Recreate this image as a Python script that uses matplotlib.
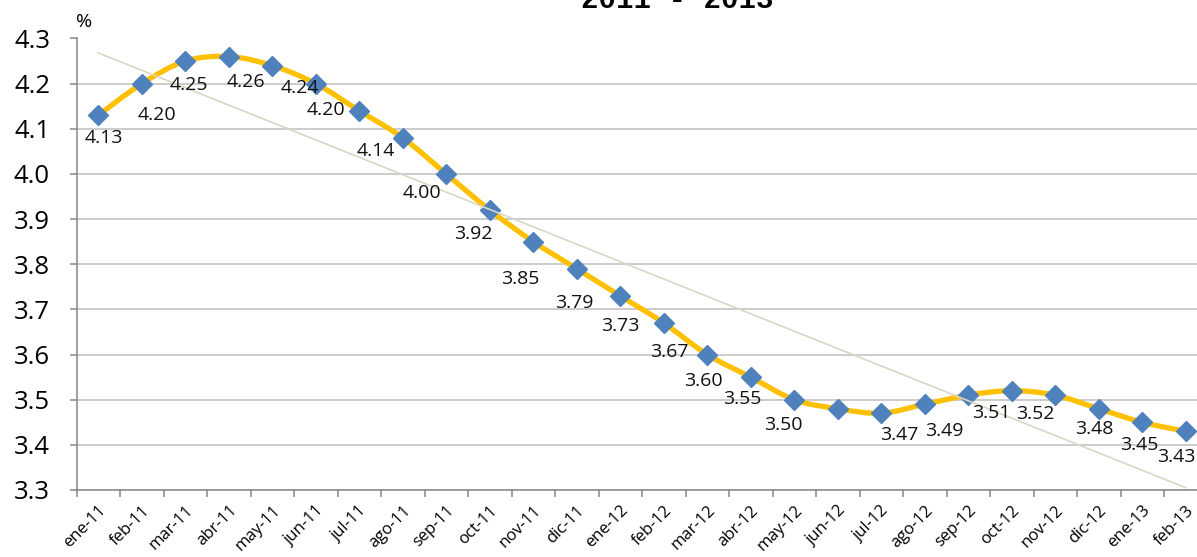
import numpy as np
import matplotlib
matplotlib.use('Agg')
import matplotlib.pyplot as plt
from matplotlib.path import Path
from matplotlib.patches import PathPatch

months = ['ene-11', 'feb-11', 'mar-11', 'abr-11', 'may-11', 'jun-11', 'jul-11', 'ago-11',
          'sep-11', 'oct-11', 'nov-11', 'dic-11', 'ene-12', 'feb-12', 'mar-12', 'abr-12',
          'may-12', 'jun-12', 'jul-12', 'ago-12', 'sep-12', 'oct-12', 'nov-12', 'dic-12',
          'ene-13', 'feb-13']
rate = [4.13, 4.20, 4.25, 4.26, 4.24, 4.20, 4.14, 4.08, 4.00, 3.92, 3.85, 3.79, 3.73,
        3.67, 3.60, 3.55, 3.50, 3.48, 3.47, 3.49, 3.51, 3.52, 3.51, 3.48, 3.45, 3.43]
# which points carry a label in the chart
shown = [True] * 7 + [False] + [True] * 9 + [False] + [True] * 4 + [False] + [True] * 3
# label offsets from the point, in pixels (dx, dy down)
label_off = [(6, 23), (15, 31), (4, 24), (17, 25), (28, 22), (10, 26), (17, 40), (0, 0),
             (-24, 19), (-16, 24), (-13, 37), (-3, 34), (0, 30), (6, 29), (-4, 26),
             (-9, 22), (-11, 25), (0, 0), (18, 22), (20, 27), (23, 18), (24, 23), (0, 0),
             (-5, 20), (-3, 23), (-10, 26)]

plt.rcParams['font.family'] = ['Open Sans', 'DejaVu Sans']

fig = plt.figure(figsize=(11.97, 5.57), dpi=100)
ax = fig.add_axes([76.5 / 1197, 67 / 557, 1131 / 1197, 451.5 / 557])

x = np.arange(len(rate))
y = np.array(rate)

# smoothed line (Bezier through the points, like Excel)
verts = [(x[0], y[0])]
codes = [Path.MOVETO]
n = len(x)
for i in range(n - 1):
    p0 = np.array([x[max(i - 1, 0)], y[max(i - 1, 0)]])
    p1 = np.array([x[i], y[i]])
    p2 = np.array([x[i + 1], y[i + 1]])
    p3 = np.array([x[min(i + 2, n - 1)], y[min(i + 2, n - 1)]])
    c1 = p1 + (p2 - p0) / 6
    c2 = p2 - (p3 - p1) / 6
    verts += [tuple(c1), tuple(c2), tuple(p2)]
    codes += [Path.CURVE4] * 3
ax.add_patch(PathPatch(Path(verts, codes), fill=False, edgecolor='#FFC000', lw=3.8,
                       zorder=2, capstyle='round', joinstyle='round'))

ax.plot(x, y, linestyle='none', marker='D', ms=10.5, color='#4F81BD',
        markeredgecolor='#4F81BD', zorder=3)

# linear trend
k, b = np.polyfit(x, y, 1)
ax.plot(x, k * x + b, color='#D9D7C4', lw=1.2, zorder=4)

for i in range(n):
    if shown[i]:
        dx, dy = label_off[i]
        ax.annotate(f'{rate[i]:.2f}', (x[i], y[i]), xytext=(dx, -dy),
                    textcoords='offset pixels', ha='center', va='center',
                    fontsize=14, color='#111111', zorder=5)

ax.set_xlim(-0.5, n - 0.5)
ax.set_ylim(3.3, 4.3)
ax.set_yticks(np.arange(3.3, 4.31, 0.1))
ax.set_yticklabels([f'{v:.1f}' for v in np.arange(3.3, 4.31, 0.1)], fontsize=18.5)
ax.set_xticks(np.arange(-0.5, n, 1))
ax.set_xticklabels([])
ax.set_xticks(x, minor=True)
ax.set_xticklabels(months, minor=True, rotation=45, ha='right', rotation_mode='anchor',
                   fontsize=12)
ax.tick_params(axis='x', which='minor', length=0, pad=9)
ax.tick_params(axis='x', which='major', length=5, color='#868686', width=1.1)
ax.tick_params(axis='y', length=5, color='#868686', width=1.1, pad=14)

ax.yaxis.grid(True, color='#BFBFBF', lw=1.1)
ax.set_axisbelow(True)
for s in ['top', 'right']:
    ax.spines[s].set_visible(False)
for s in ['left', 'bottom']:
    ax.spines[s].set_color('#868686')
    ax.spines[s].set_linewidth(1.1)

fig.text(84 / 1197, 1 - 22 / 557, '%', fontsize=14, ha='center', va='center')
fig.text(677 / 1197, 1 - 8 / 557, '2011 - 2013', ha='center', va='baseline',
         fontsize=21, fontweight='bold', family='Liberation Mono')

fig.savefig('out.png', dpi=100)
